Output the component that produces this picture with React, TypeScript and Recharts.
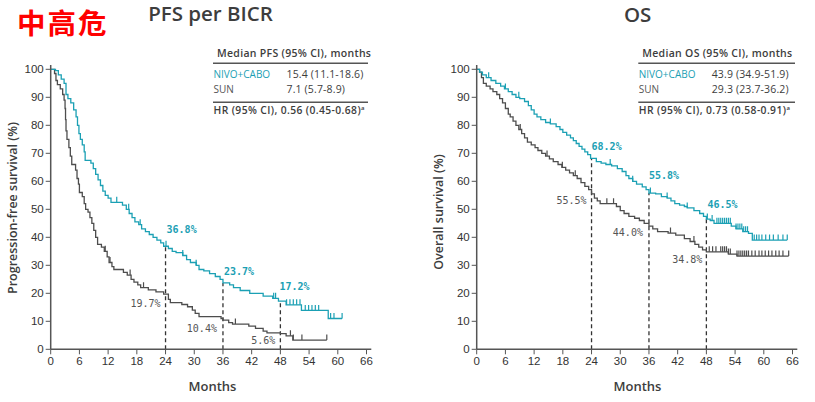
import React from 'react';
import { ComposedChart, Line, Scatter, XAxis, YAxis, ReferenceLine } from 'recharts';

const TEAL = '#1ba0b4';
const GREY = '#4d4d4d';
const INK = '#3d3d3d';

const MONTH_TICKS = [0, 6, 12, 18, 24, 30, 36, 42, 48, 54, 60, 66];
const PCT_TICKS = [0, 10, 20, 30, 40, 50, 60, 70, 80, 90, 100];
const LANDMARKS = [24, 36, 48];

// [month, survival %] step points
const pfsNivo: [number, number][] = [
  [0, 100], [1.0, 99.5], [1.6, 98], [2.2, 96.5], [2.8, 95], [3.2, 91], [3.6, 89.5], [4.2, 88],
  [4.8, 85.5], [5.3, 83], [5.6, 80], [5.9, 77], [6.2, 75], [6.6, 73], [7.0, 70.5], [7.2, 67.5],
  [8.4, 66.5], [8.9, 64.5], [9.4, 62.5], [9.9, 60.5], [10.4, 58.5], [10.9, 56.5], [11.4, 55],
  [12.0, 54], [12.6, 52.5], [15.0, 51.5], [15.8, 50], [16.4, 48.5], [17.0, 47], [17.6, 45.5],
  [18.4, 44.5], [19.0, 43], [19.8, 42], [20.6, 41], [21.4, 40], [22.2, 39], [23.0, 38],
  [23.6, 36.8], [24.6, 36], [25.4, 35], [26.2, 34.5], [27.6, 33.5], [28.4, 32], [29.2, 31],
  [30.4, 30], [31.0, 28.5], [32.0, 28], [33.2, 27], [34.4, 26], [35.4, 25], [36.0, 23.7],
  [37.4, 23], [38.2, 22], [39.6, 21], [41.6, 20], [44.4, 19], [46.4, 18.2], [47.6, 17.2],
  [49.2, 15.9], [52.4, 13.9], [58.0, 11.0], [60.9, 11.0],
];
const pfsSun: [number, number][] = [
  [0, 100], [0.8, 98.5], [1.1, 96], [1.4, 94.5], [2.0, 93], [2.5, 91], [2.8, 89], [3.0, 86],
  [3.1, 82], [3.2, 78], [3.4, 75], [3.8, 72], [4.1, 69], [4.4, 66], [5.2, 64], [5.5, 61],
  [5.8, 59], [6.0, 56], [6.6, 54.5], [7.0, 52], [7.3, 50], [7.8, 49], [8.2, 47], [8.6, 45],
  [9.0, 42.5], [9.4, 40], [9.8, 37.5], [10.6, 36.5], [11.2, 35], [11.8, 33], [12.2, 31],
  [12.8, 29.5], [13.2, 28.5], [15.2, 27.5], [16.0, 26.5], [16.8, 25], [17.4, 24], [18.2, 23],
  [18.8, 22], [20.4, 21.2], [22.0, 20.5], [23.6, 19.7], [24.6, 17.8], [25.0, 16.7], [27.4, 16],
  [28.6, 15.2], [29.6, 14], [30.2, 12.8], [31.0, 11.7], [35.6, 11], [36.0, 10.4], [37.2, 9.5],
  [38.0, 9.0], [41.4, 8.3], [42.8, 7.5], [44.4, 6.5], [45.2, 5.9], [48.0, 5.6], [49.2, 4.8],
  [50.6, 3.3], [57.7, 3.3],
];
const osNivo: [number, number][] = [
  [0, 100], [0.6, 99], [1.2, 98], [2.0, 97], [3.0, 96], [4.0, 95], [5.0, 94], [5.8, 93],
  [6.6, 92], [7.4, 91], [8.2, 90], [9.0, 89.5], [10.0, 88.5], [10.8, 87], [11.4, 85.5],
  [12.0, 84], [12.6, 83], [13.4, 82], [14.4, 81], [15.4, 80.5], [16.6, 79.5], [17.4, 78.5],
  [18.0, 77.5], [18.8, 76.5], [19.6, 75.5], [20.2, 74.5], [20.8, 73.5], [21.4, 72.5],
  [22.0, 71.5], [22.6, 70.5], [23.2, 69.5], [23.8, 68.2], [25.0, 67], [26.0, 66.5], [27.0, 66],
  [28.2, 65.5], [29.4, 64.5], [30.4, 63.5], [31.2, 62], [31.8, 61], [32.6, 60], [33.4, 59],
  [34.6, 58], [35.4, 57], [36.0, 55.8], [37.4, 55.5], [38.6, 54.5], [39.8, 54], [40.6, 53],
  [41.4, 52], [42.4, 51.5], [43.4, 51], [44.0, 50.5], [45.4, 49.5], [46.6, 48.5], [47.4, 47.5],
  [48.0, 46.5], [48.8, 46], [49.6, 45], [53.2, 44], [54.2, 43], [55.6, 42], [56.8, 41.4],
  [57.6, 39], [64.9, 39],
];
const osSun: [number, number][] = [
  [0, 100], [0.6, 99], [1.0, 97], [1.4, 95], [2.0, 94], [2.8, 93], [3.4, 92], [4.2, 91],
  [4.8, 89.5], [5.4, 88], [6.0, 86], [6.6, 84], [7.0, 83], [7.6, 81.5], [8.2, 80], [8.8, 78.5],
  [9.4, 77], [10.0, 75.5], [10.6, 74], [11.4, 73], [12.2, 72], [12.8, 71], [13.6, 70],
  [14.4, 69], [15.2, 68], [16.0, 67], [17.0, 66], [17.8, 65], [18.6, 64], [19.4, 63],
  [20.2, 62], [21.0, 61], [21.8, 59.5], [22.6, 58.2], [23.4, 57], [24.0, 55.5], [24.6, 54],
  [25.2, 53], [25.8, 52], [29.2, 51], [30.0, 49.5], [30.8, 48.5], [31.8, 47.5], [33.0, 46.8],
  [34.0, 46], [35.0, 45], [36.0, 44], [36.8, 43], [37.8, 42], [40.0, 41.5], [41.6, 40.8],
  [43.4, 39.5], [44.6, 38.5], [45.6, 37.5], [46.4, 36.5], [47.2, 35.5], [48.0, 34.8],
  [52.6, 34.0], [54.4, 33.3], [65.2, 33.3],
];

// censoring marks (months)
const pfsNivoCensor = [13.8, 16.3, 18.7, 24.1, 27.6, 30.4, 46.6, 47.0, 49.3, 50.0, 50.7, 51.4,
  52.1, 53.2, 53.9, 54.6, 55.3, 56.0, 58.5, 59.2, 60.9];
const pfsSunCensor = [11.4, 12.4, 16.6, 19.4, 38.6, 50.1, 50.7, 52.5, 57.7];
const osNivoCensor = [2.5, 6.0, 8.8, 15.4, 27.9, 32.6, 36.3, 39.8, 44.0, 48.2, 49.2, 50.2,
  50.6, 51.0, 51.4, 51.8, 52.2, 52.6, 53.0, 54.2, 54.6, 55.0, 55.4, 55.8, 56.2, 56.6, 58.0,
  58.5, 59.0, 59.6, 60.4, 61.2, 62.0, 63.0, 64.0, 64.9];
const osSunCensor = [9.1, 14.7, 17.9, 20.6, 27.2, 28.6, 40.5, 45.4, 48.6, 49.3, 50.0, 51.0,
  51.4, 51.8, 52.2, 52.6, 53.0, 54.4, 54.8, 55.2, 55.6, 56.0, 56.4, 56.8, 57.5, 58.2, 59.0,
  59.6, 60.3, 61.0, 61.7, 62.5, 63.2, 64.0, 65.2];

const pfsNivoMarks = [36.8, 23.7, 17.2];
const pfsSunMarks = [19.7, 10.4, 5.6];
const osNivoMarks = [68.2, 55.8, 46.5];
const osSunMarks = [55.5, 44.0, 34.8];

const toRows = (pts: [number, number][]) => pts.map(([m, s]) => ({ m, s }));
const survAt = (pts: [number, number][], t: number) => {
  let v = pts[0][1];
  for (const [m, s] of pts) if (m <= t) v = s;
  return v;
};
const censorRows = (pts: [number, number][], months: number[]) =>
  months.map((m) => ({ m, s: survAt(pts, m) }));
const markRows = (vals: number[]) => vals.map((s, i) => ({ m: LANDMARKS[i], s, i }));

const tickMark = (color: string) => (p: any) => (
  <line x1={p.cx} y1={p.cy} x2={p.cx} y2={p.cy - 5.5} stroke={color} strokeWidth={1.2} />
);

type Off = { dx: number; dy: number; anchor: 'start' | 'end' };

const markLabel = (color: string, bold: boolean, offs: Off[]) => (p: any) => {
  const o = offs[p.payload.i];
  return (
    <text
      x={p.cx + o.dx}
      y={p.cy + o.dy}
      textAnchor={o.anchor}
      fill={color}
      fontSize={10}
      fontWeight={bold ? 'bold' : 'normal'}
      fontFamily="DejaVu Sans Mono"
    >
      {p.payload.s.toFixed(1)}%
    </text>
  );
};

interface PanelProps {
  left: number;
  width: number;
  axisWidth: number;
  nivo: [number, number][];
  sun: [number, number][];
  nivoCensor: number[];
  sunCensor: number[];
  nivoMarks: number[];
  sunMarks: number[];
  nivoOffs: Off[];
  sunOffs: Off[];
}

function KmPanel(props: PanelProps) {
  const { left, width, axisWidth, nivo, sun } = props;
  const tickStyle = { fontSize: 11.5, fill: '#333', fontFamily: 'Liberation Sans' };
  return (
    <div style={{ position: 'absolute', left, top: 0 }}>
      <ComposedChart
        width={width}
        height={402}
        margin={{ top: 65.1, right: width - axisWidth - 67 * 4.785, bottom: 22.7, left: 0 }}
      >
        <XAxis
          type="number"
          dataKey="m"
          domain={[0, 67]}
          ticks={MONTH_TICKS}
          height={30}
          tickSize={5}
          tickMargin={3}
          tick={tickStyle}
          axisLine={{ stroke: '#555', strokeWidth: 1.5 }}
          tickLine={{ stroke: '#555' }}
          allowDataOverflow
        />
        <YAxis
          type="number"
          dataKey="s"
          domain={[0, 101.5]}
          ticks={PCT_TICKS}
          width={axisWidth}
          tickSize={5}
          tick={tickStyle}
          axisLine={{ stroke: '#555', strokeWidth: 1.5 }}
          tickLine={{ stroke: '#555' }}
          allowDataOverflow
        />
        {LANDMARKS.map((t, i) => (
          <ReferenceLine
            key={t}
            segment={[{ x: t, y: 0 }, { x: t, y: props.nivoMarks[i] }]}
            stroke="#333"
            strokeWidth={1.3}
            strokeDasharray="4 3"
          />
        ))}
        <Line
          data={toRows(sun)}
          dataKey="s"
          type="stepAfter"
          stroke={GREY}
          strokeWidth={1.3}
          dot={false}
          isAnimationActive={false}
        />
        <Line
          data={toRows(nivo)}
          dataKey="s"
          type="stepAfter"
          stroke={TEAL}
          strokeWidth={1.3}
          dot={false}
          isAnimationActive={false}
        />
        <Scatter data={censorRows(sun, props.sunCensor)} dataKey="s" shape={tickMark(GREY)} isAnimationActive={false} />
        <Scatter data={censorRows(nivo, props.nivoCensor)} dataKey="s" shape={tickMark(TEAL)} isAnimationActive={false} />
        <Scatter data={markRows(props.nivoMarks)} dataKey="s" shape={markLabel(TEAL, true, props.nivoOffs)} isAnimationActive={false} />
        <Scatter data={markRows(props.sunMarks)} dataKey="s" shape={markLabel('#555', false, props.sunOffs)} isAnimationActive={false} />
      </ComposedChart>
    </div>
  );
}

const sans = 'Open Sans';

function Table(p: { x: number; w: number; head: string; nivo: string; sun: string; hr: string; valX: number }) {
  return (
    <g fontFamily={sans}>
      <text x={p.x + 4} y={56.5} fontSize={10.5} fontWeight={600} fill={INK} letterSpacing={0.3}>{p.head}</text>
      <line x1={p.x} x2={p.x + p.w} y1={63.3} y2={63.3} stroke="#555" strokeWidth={1.6} />
      <text x={p.x + 0.5} y={78} fontSize={10} fill={TEAL}>NIVO+CABO</text>
      <text x={p.valX} y={78} fontSize={10.5} fill={INK} letterSpacing={0.15}>{p.nivo}</text>
      <text x={p.x + 0.5} y={93} fontSize={10} fill="#555">SUN</text>
      <text x={p.valX} y={93} fontSize={10.5} fill={INK} letterSpacing={0.15}>{p.sun}</text>
      <line x1={p.x} x2={p.x + p.w} y1={102.3} y2={102.3} stroke="#555" strokeWidth={1.6} />
      <text x={p.x + 0.5} y={114} fontSize={10.3} fontWeight={600} fill={INK} letterSpacing={0.4}>
        {p.hr}
        <tspan fontSize={6} dy={-4}>a</tspan>
      </text>
    </g>
  );
}

export default function App() {
  return (
    <div style={{ position: 'absolute', left: 0, top: 0, width: 815, height: 402, background: '#fff' }}>
      <KmPanel
        left={0}
        width={400}
        axisWidth={50.7}
        nivo={pfsNivo}
        sun={pfsSun}
        nivoCensor={pfsNivoCensor}
        sunCensor={pfsSunCensor}
        nivoMarks={pfsNivoMarks}
        sunMarks={pfsSunMarks}
        nivoOffs={[
          { dx: 1, dy: -13, anchor: 'start' },
          { dx: 1, dy: -8, anchor: 'start' },
          { dx: -1, dy: -11, anchor: 'start' },
        ]}
        sunOffs={[
          { dx: -5, dy: 13, anchor: 'end' },
          { dx: -6, dy: 12, anchor: 'end' },
          { dx: -5, dy: 10, anchor: 'end' },
        ]}
      />
      <KmPanel
        left={410}
        width={405}
        axisWidth={66.7}
        nivo={osNivo}
        sun={osSun}
        nivoCensor={osNivoCensor}
        sunCensor={osSunCensor}
        nivoMarks={osNivoMarks}
        sunMarks={osSunMarks}
        nivoOffs={[
          { dx: 0, dy: -8, anchor: 'start' },
          { dx: 0, dy: -14, anchor: 'start' },
          { dx: 1, dy: -11, anchor: 'start' },
        ]}
        sunOffs={[
          { dx: -5, dy: 10, anchor: 'end' },
          { dx: -6, dy: 10, anchor: 'end' },
          { dx: -4, dy: 11, anchor: 'end' },
        ]}
      />
      <svg width={815} height={402} style={{ position: 'absolute', left: 0, top: 0, pointerEvents: 'none' }}>
        <text x={17} y={34} fontSize={28.5} fontWeight="bold" fill="#ff0000" fontFamily="Noto Sans CJK SC" letterSpacing={2}>中高危</text>
        <text x={210.5} y={21} textAnchor="middle" fontSize={20.5} fontWeight={600} fill={INK} fontFamily={sans}>PFS per BICR</text>
        <text x={637.7} y={21.5} textAnchor="middle" fontSize={20.5} fontWeight={600} fill={INK} fontFamily={sans}>OS</text>
        <Table x={213} w={155} head="Median PFS (95% CI), months" nivo="15.4 (11.1-18.6)" sun="7.1 (5.7-8.9)" hr="HR (95% CI), 0.56 (0.45-0.68)" valX={286.5} />
        <Table x={638.3} w={156.7} head="Median OS (95% CI), months" nivo="43.9 (34.9-51.9)" sun="29.3 (23.7-36.2)" hr="HR (95% CI), 0.73 (0.58-0.91)" valX={711.7} />
        <text x={212.5} y={391} textAnchor="middle" fontSize={13} fontWeight={600} fill={INK} fontFamily={sans}>Months</text>
        <text x={637.5} y={391} textAnchor="middle" fontSize={13} fontWeight={600} fill={INK} fontFamily={sans}>Months</text>
        <text x={12} y={208} transform="rotate(-90 12 208)" textAnchor="middle" dominantBaseline="central" fontSize={12.5} fontWeight={600} fill={INK} fontFamily={sans}>Progression-free survival (%)</text>
        <text x={438} y={212} transform="rotate(-90 438 212)" textAnchor="middle" dominantBaseline="central" fontSize={12.5} fontWeight={600} fill={INK} fontFamily={sans}>Overall survival (%)</text>
      </svg>
    </div>
  );
}
